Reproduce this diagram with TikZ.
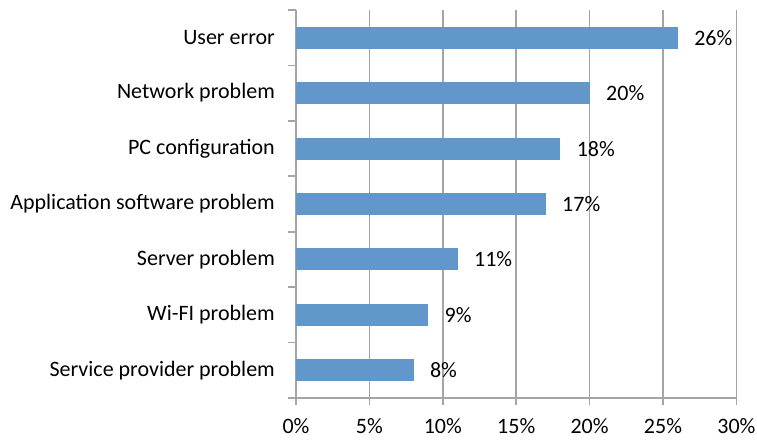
\documentclass[tikz,border=0pt]{standalone}
\usepackage{fontspec}
\setmainfont{Carlito}
\usepackage{xcolor}
\usetikzlibrary{positioning}
\definecolor{barcolor}{RGB}{98, 151, 204}
\definecolor{gridcolor}{RGB}{165, 165, 165}

\begin{document}
\begin{tikzpicture}[
			x=1pt, y=-1pt,
			node distance=16pt,
			bar/.style={
				rectangle,
				fill=barcolor,
				minimum height=22pt,
				inner sep=0pt,
				anchor=west
			},
			catlabel/.style={
				anchor=east,
				inner sep=0pt,
				font=\fontsize{22}{24}\selectfont
			},
			vallabel/.style={
				inner sep=0pt,
				font=\fontsize{22}{24}\selectfont
			},
			gridline/.style={
				draw=gridcolor,
				line width=1.6pt
			}
			]
			
			\useasboundingbox (0,0) rectangle (757,439);
			
			% grid lines, x axis ticks and labels
			\foreach \k/\pc in {0/0\%, 1/5\%, 2/10\%, 3/15\%, 4/20\%, 5/25\%, 6/30\%} {
				\draw[gridline] (296+73.4*\k,10) -- (296+73.4*\k,405);
				\node[vallabel, anchor=base] (xl\k) at (296+73.4*\k,433) {\pc};
			}
			
			% axes
			\draw[gridline] (296,398) -- (736.4,398);
			\foreach \k in {0,...,7}
				\draw[gridline] (288,10+55.43*\k) -- (296,10+55.43*\k);
			
			% bars
			\node[bar, minimum width=381.7pt] (b1) at (296,37.7) {};
			\node[bar, minimum width=293.6pt] (b2) at (296,93.1) {};
			\node[bar, minimum width=264.2pt] (b3) at (296,148.6) {};
			\node[bar, minimum width=249.6pt] (b4) at (296,204.0) {};
			\node[bar, minimum width=161.5pt] (b5) at (296,259.4) {};
			\node[bar, minimum width=132.1pt] (b6) at (296,314.9) {};
			\node[bar, minimum width=117.4pt] (b7) at (296,370.3) {};
			
			% values
			\node[vallabel, right=of b1] (v1) {26\%};
			\node[vallabel, right=of b2] (v2) {20\%};
			\node[vallabel, right=of b3] (v3) {18\%};
			\node[vallabel, right=of b4] (v4) {17\%};
			\node[vallabel, right=of b5] (v5) {11\%};
			\node[vallabel, right=of b6] (v6) {9\%};
			\node[vallabel, right=of b7] (v7) {8\%};
			
			% categories
			\node[catlabel] (c1) at (275,37.7) {User error};
			\node[catlabel] (c2) at (275,93.1) {Network problem};
			\node[catlabel] (c3) at (275,148.6) {PC configuration};
			\node[catlabel] (c4) at (275,204.0) {Application software problem};
			\node[catlabel] (c5) at (275,259.4) {Server problem};
			\node[catlabel] (c6) at (275,314.9) {Wi-FI problem};
			\node[catlabel] (c7) at (275,370.3) {Service provider problem};
			
		\end{tikzpicture}
\end{document}
